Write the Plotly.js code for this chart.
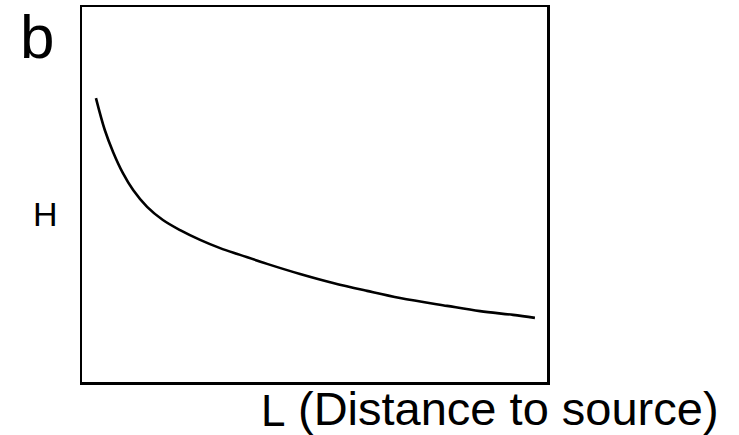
<!DOCTYPE html>
<html>
<head>
<meta charset="utf-8">
<script src="https://cdn.plot.ly/plotly-3.0.1.min.js"></script>
<style>html,body{margin:0;padding:0;background:#fff;}#chart{width:739px;height:435px;}</style>
</head>
<body>
<div id="chart"></div>
<script>
// Distance to source (L, arbitrary units) and H (arbitrary units)
const distance = [0.30, 0.49, 0.67, 0.88, 1.10, 1.40, 1.74, 2.11, 2.54, 2.97, 3.40, 3.98, 4.69, 5.40, 6.13, 6.84, 7.85, 8.56, 9.27, 9.74];
const heightH  = [7.57, 6.72, 6.13, 5.57, 5.12, 4.67, 4.32, 4.05, 3.79, 3.57, 3.39, 3.15, 2.88, 2.64, 2.43, 2.24, 2.03, 1.89, 1.79, 1.71];
const panelLabel = "b";
const yLabel = "H";
const xSymbol = "L";
const xLabel = "(Distance to source)";

const trace = {
  x: distance, y: heightH, type: "scatter", mode: "lines",
  line: {color: "#000", width: 2.6, shape: "spline", smoothing: 1},
  hoverinfo: "skip"
};

const axisCommon = {
  showgrid: false, zeroline: false, showticklabels: false, ticks: "",
  showline: true, mirror: true, linecolor: "#000", linewidth: 2.5, fixedrange: true
};

const layout = {
  width: 739, height: 435,
  margin: {l: 82, r: 192, t: 7, b: 53},
  paper_bgcolor: "#fff", plot_bgcolor: "#fff",
  showlegend: false,
  font: {family: "Liberation Sans, Arial, sans-serif", color: "#000"},
  xaxis: Object.assign({range: [0, 10]}, axisCommon),
  yaxis: Object.assign({range: [0, 10]}, axisCommon),
  annotations: [
    {text: panelLabel, xref: "paper", yref: "paper", x: -0.096, y: 1.016, xanchor: "center", yanchor: "top", borderpad: 0, showarrow: false, font: {size: 62}},
    {text: yLabel, xref: "paper", yref: "paper", x: -0.0775, y: 0.448, xanchor: "center", yanchor: "middle", showarrow: false, font: {size: 34}},
    {text: xSymbol, xref: "paper", yref: "paper", x: 0.411, y: -0.0747, xanchor: "center", yanchor: "middle", borderpad: 0, showarrow: false, font: {size: 44}},
    {text: xLabel, xref: "paper", yref: "paper", x: 0.462, y: -0.0707, xanchor: "left", yanchor: "middle", borderpad: 0, showarrow: false, font: {size: 47}}
  ]
};

Plotly.newPlot("chart", [trace], layout, {displayModeBar: false, staticPlot: true});
</script>
</body>
</html>
